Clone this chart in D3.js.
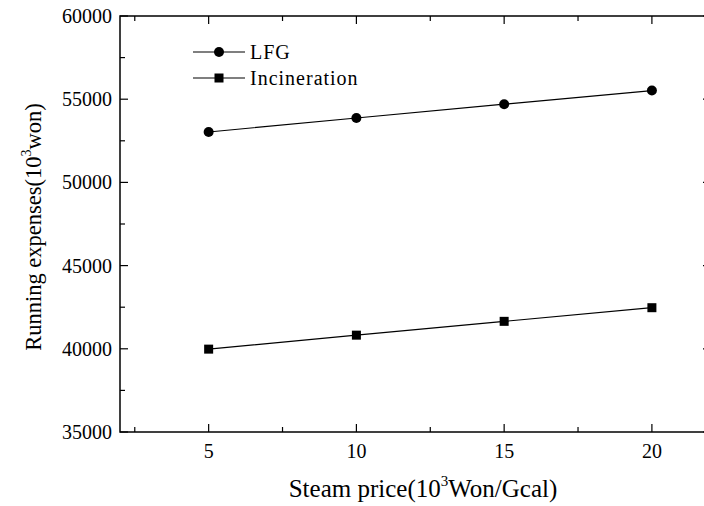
<!DOCTYPE html>
<html><head><meta charset="utf-8">
<script src="https://cdn.jsdelivr.net/npm/d3@7"></script>
<style>body{margin:0;background:#fff}svg{display:block}</style>
</head><body>
<svg id="c" width="704" height="506" font-family="'Liberation Serif', 'Times New Roman', 'DejaVu Serif', serif"></svg>
<script>
const steamPrice = [5, 10, 15, 20];
const lfgValues = [53030, 53870, 54700, 55520];
const incinerationValues = [39980, 40820, 41650, 42470];
const seriesNames = ["LFG", "Incineration"];
const xTicks = [5, 10, 15, 20];
const yTicks = [35000, 40000, 45000, 50000, 55000, 60000];

const svg = d3.select("#c");
const L = 120, R = 711, T = 16, B = 432;
const x = d3.scaleLinear().domain([2, 22]).range([L, R]);
const y = d3.scaleLinear().domain([35000, 60000]).range([B, T]);

const g = svg.append("g");
g.append("rect").attr("x", L).attr("y", T).attr("width", R - L).attr("height", B - T)
  .attr("fill", "none").attr("stroke", "#000").attr("stroke-width", 1.5);

const xMinor = d3.range(2.5, 22, 5);
const yMinor = d3.range(37500, 60000, 5000);
const maj = 8, mnr = 5;
xTicks.forEach(v => {
  g.append("line").attr("x1", x(v)).attr("x2", x(v)).attr("y1", B).attr("y2", B - maj).attr("stroke", "#000").attr("stroke-width", 1.2);
  g.append("line").attr("x1", x(v)).attr("x2", x(v)).attr("y1", T).attr("y2", T + maj).attr("stroke", "#000").attr("stroke-width", 1.2);
  g.append("text").attr("x", x(v)).attr("y", B + 26).attr("text-anchor", "middle").attr("font-size", 20).text(v);
});
xMinor.forEach(v => {
  g.append("line").attr("x1", x(v)).attr("x2", x(v)).attr("y1", B).attr("y2", B - mnr).attr("stroke", "#000").attr("stroke-width", 1.2);
  g.append("line").attr("x1", x(v)).attr("x2", x(v)).attr("y1", T).attr("y2", T + mnr).attr("stroke", "#000").attr("stroke-width", 1.2);
});
yTicks.forEach(v => {
  g.append("line").attr("x1", L).attr("x2", L + maj).attr("y1", y(v)).attr("y2", y(v)).attr("stroke", "#000").attr("stroke-width", 1.2);
  g.append("line").attr("x1", R).attr("x2", R - maj).attr("y1", y(v)).attr("y2", y(v)).attr("stroke", "#000").attr("stroke-width", 1.2);
  g.append("text").attr("x", L - 8).attr("y", y(v)).attr("dy", "0.35em").attr("text-anchor", "end").attr("font-size", 20).text(v);
});
yMinor.forEach(v => {
  g.append("line").attr("x1", L).attr("x2", L + mnr).attr("y1", y(v)).attr("y2", y(v)).attr("stroke", "#000").attr("stroke-width", 1.2);
  g.append("line").attr("x1", R).attr("x2", R - mnr).attr("y1", y(v)).attr("y2", y(v)).attr("stroke", "#000").attr("stroke-width", 1.2);
});

const xt = g.append("text").attr("x", 423).attr("y", 497).attr("text-anchor", "middle").attr("font-size", 25);
xt.append("tspan").text("Steam price(10");
xt.append("tspan").attr("font-size", 15).attr("dy", -11).text("3");
xt.append("tspan").attr("dy", 11).text("Won/Gcal)");
const yt = g.append("text").attr("transform", `translate(41,${(T + B) / 2 + 3}) rotate(-90)`).attr("text-anchor", "middle").attr("font-size", 22.5);
yt.append("tspan").text("Running expenses(10");
yt.append("tspan").attr("font-size", 14).attr("dy", -10).text("3");
yt.append("tspan").attr("dy", 10).text("won)");

const line = d3.line().x((d, i) => x(steamPrice[i])).y(d => y(d));
[lfgValues, incinerationValues].forEach(vals => {
  g.append("path").attr("d", line(vals)).attr("fill", "none").attr("stroke", "#000").attr("stroke-width", 1.2);
});
g.selectAll(".c").data(lfgValues).join("circle").attr("cx", (d, i) => x(steamPrice[i])).attr("cy", d => y(d)).attr("r", 5).attr("fill", "#000");
g.selectAll(".s").data(incinerationValues).join("rect").attr("x", (d, i) => x(steamPrice[i]) - 4.5).attr("y", d => y(d) - 4.5).attr("width", 9).attr("height", 9).attr("fill", "#000");

const lx1 = 193, lx2 = 245, lm = 219;
[52, 78].forEach((ly, i) => {
  g.append("line").attr("x1", lx1).attr("x2", lx2).attr("y1", ly).attr("y2", ly).attr("stroke", "#000").attr("stroke-width", 1.2);
  if (i === 0) g.append("circle").attr("cx", lm).attr("cy", ly).attr("r", 5).attr("fill", "#000");
  else g.append("rect").attr("x", lm - 4.5).attr("y", ly - 4.5).attr("width", 9).attr("height", 9).attr("fill", "#000");
  g.append("text").attr("x", 250).attr("y", ly).attr("dy", "0.35em").attr("font-size", 20).attr("letter-spacing", 1).text(seriesNames[i]);
});
</script>
</body></html>
